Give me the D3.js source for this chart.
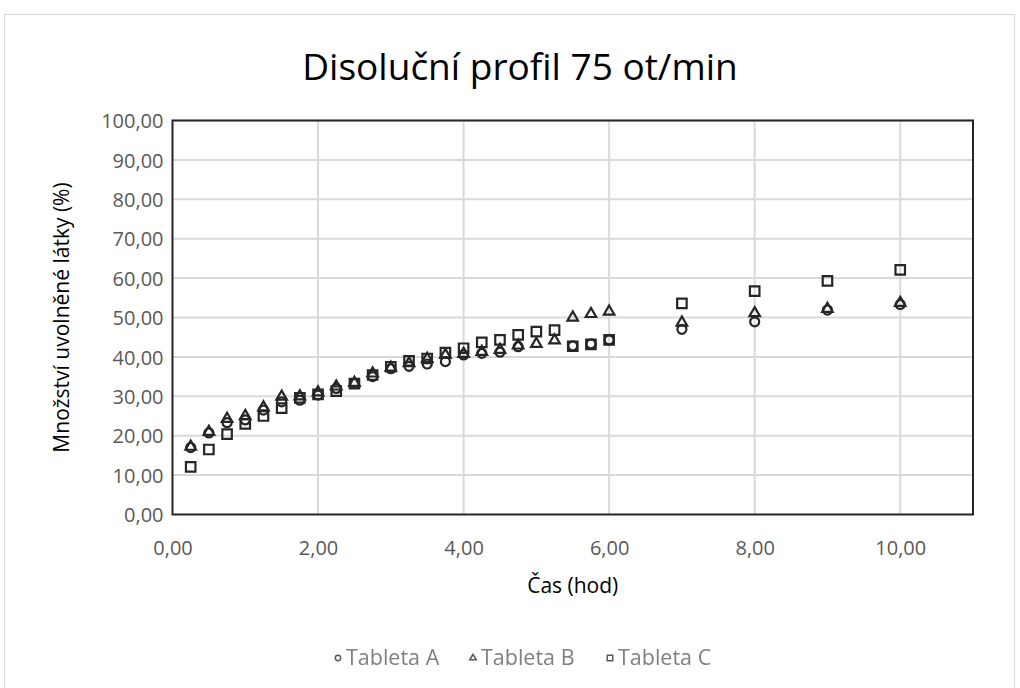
<!DOCTYPE html>
<html>
<head>
<meta charset="utf-8">
<script src="https://cdn.jsdelivr.net/npm/d3@7"></script>
<style>
  html, body { margin: 0; padding: 0; background: #ffffff; }
  svg { display: block; }
</style>
</head>
<body>
<svg id="chart" width="1020" height="688"></svg>
<script>
// Sampling times (hours)
const times = [0.25, 0.5, 0.75, 1, 1.25, 1.5, 1.75, 2, 2.25, 2.5, 2.75, 3, 3.25, 3.5, 3.75,
               4, 4.25, 4.5, 4.75, 5, 5.25, 5.5, 5.75, 6, 7, 8, 9, 10];
// Released amount (%) per tablet
const tabletA = [17.0, 20.7, 23.3, 24.0, 26.5, 28.6, 29.0, 30.3, 32.0, 33.3, 35.0, 37.0, 37.6, 38.2, 38.8,
                 40.5, 40.9, 41.2, 42.6, null, null, 42.8, 43.3, 44.3, 47.0, 48.9, 51.9, 53.3];
const tabletB = [17.2, 21.0, 24.3, 25.0, 27.2, 29.9, 30.0, 31.0, 32.5, 33.4, 35.8, 37.3, 38.4, 39.5, 40.5,
                 40.8, 41.3, 41.8, 42.9, 43.3, 44.2, 50.0, 50.9, 51.5, 48.7, 51.1, 52.2, 53.7];
const tabletC = [12.1, 16.5, 20.4, 23.0, 25.0, 27.0, 29.6, 30.5, 31.3, 33.2, 35.4, 37.5, 39.0, 39.6, 41.1,
                 42.2, 43.7, 44.3, 45.6, 46.4, 46.8, 42.7, 43.2, 44.3, 53.6, 56.7, 59.3, 62.1];
const seriesNames = ["Tableta A", "Tableta B", "Tableta C"];
const xTicks = [0, 2, 4, 6, 8, 10];
const yTicks = [0, 10, 20, 30, 40, 50, 60, 70, 80, 90, 100];

const titleText = "Disoluční profil 75 ot/min";
const xTitle = "Čas (hod)";
const yTitle = "Množství uvolněné látky (%)";

const svg = d3.select("#chart");
const plot = { left: 172.5, right: 973, top: 120.5, bottom: 514.5 };
const font = "'Open Sans', 'Noto Sans', sans-serif";
const markColor = "#262626";

const fmt = v => d3.format(".2f")(v).replace(".", ",");

const x = d3.scaleLinear().domain([0, 11]).range([plot.left, plot.right]);
const y = d3.scaleLinear().domain([0, 100]).range([plot.bottom, plot.top]);

// Outer chart frame
svg.append("rect")
  .attr("x", 4.5).attr("y", 14.5)
  .attr("width", 1010).attr("height", 690)
  .attr("fill", "#ffffff").attr("stroke", "#d9d9d9").attr("stroke-width", 1);

// Title
svg.append("text")
  .attr("x", 520).attr("y", 80)
  .attr("text-anchor", "middle")
  .attr("font-family", font).attr("font-size", 37)
  .attr("fill", "#000000")
  .text(titleText);

// Gridlines
const grid = svg.append("g");
grid.selectAll("line.h").data(yTicks.filter(v => v > 0)).join("line")
  .attr("x1", plot.left).attr("x2", plot.right)
  .attr("y1", d => y(d)).attr("y2", d => y(d))
  .attr("stroke", "#d9d9d9").attr("stroke-width", 2);
grid.selectAll("line.v").data(xTicks.filter(v => v > 0)).join("line")
  .attr("x1", d => x(d)).attr("x2", d => x(d))
  .attr("y1", plot.top).attr("y2", plot.bottom)
  .attr("stroke", "#d9d9d9").attr("stroke-width", 2);

// Axes with tick labels only
const xAxis = d3.axisBottom(x).tickValues(xTicks).tickFormat(fmt).tickSize(0).tickPadding(0);
const gx = svg.append("g").attr("transform", `translate(0,${plot.bottom})`).call(xAxis);
gx.select(".domain").remove();
gx.selectAll("text")
  .attr("y", 40).attr("dy", null)
  .attr("font-family", font).attr("font-size", 20).attr("fill", "#595959");

const yAxis = d3.axisLeft(y).tickValues(yTicks).tickFormat(fmt).tickSize(0).tickPadding(0);
const gy = svg.append("g").attr("transform", `translate(${plot.left},0)`).call(yAxis);
gy.select(".domain").remove();
gy.selectAll("text")
  .attr("x", -9).attr("dy", "0.36em")
  .attr("font-family", font).attr("font-size", 20).attr("fill", "#595959");

// Plot area border
svg.append("rect")
  .attr("x", plot.left).attr("y", plot.top)
  .attr("width", plot.right - plot.left).attr("height", plot.bottom - plot.top)
  .attr("fill", "none").attr("stroke", "#262626").attr("stroke-width", 2);

// Axis titles
svg.append("text")
  .attr("x", (plot.left + plot.right) / 2).attr("y", 593)
  .attr("text-anchor", "middle")
  .attr("font-family", font).attr("font-size", 21).attr("fill", "#000000")
  .text(xTitle);
svg.append("text")
  .attr("transform", `translate(69,${(plot.top + plot.bottom) / 2}) rotate(-90)`)
  .attr("text-anchor", "middle")
  .attr("font-family", font).attr("font-size", 21).attr("fill", "#000000")
  .text(yTitle);

// Markers
const symbols = [
  d3.symbol().type(d3.symbolCircle).size(64),
  d3.symbol().type(d3.symbolTriangle).size(48),
  d3.symbol().type(d3.symbolSquare).size(90)
];
const series = [tabletA, tabletB, tabletC];
const marks = svg.append("g");
series.forEach((vals, i) => {
  const pts = times.map((t, j) => ({ t, v: vals[j] })).filter(d => d.v != null);
  marks.append("g").selectAll("path").data(pts).join("path")
    .attr("transform", d => `translate(${x(d.t)},${y(d.v)})`)
    .attr("d", symbols[i]())
    .attr("fill", "none").attr("stroke", markColor).attr("stroke-width", 2.2);
});

// Legend
const legendSymbols = [
  d3.symbol().type(d3.symbolCircle).size(22),
  d3.symbol().type(d3.symbolTriangle).size(18),
  d3.symbol().type(d3.symbolSquare).size(30)
];
const defs = svg.append("defs");
defs.append("filter").attr("id", "soft")
  .append("feGaussianBlur").attr("stdDeviation", 0.45);
const legendX = [338, 473, 610];
const legend = svg.append("g").attr("filter", "url(#soft)");
seriesNames.forEach((name, i) => {
  legend.append("path")
    .attr("transform", `translate(${legendX[i]},658)`)
    .attr("d", legendSymbols[i]())
    .attr("fill", "none").attr("stroke", "#595959").attr("stroke-width", 1.5);
  legend.append("text")
    .attr("x", legendX[i] + 8).attr("y", 665)
    .attr("font-family", font).attr("font-size", 21.5).attr("fill", "#7f7f7f")
    .text(name);
});
</script>
</body>
</html>
